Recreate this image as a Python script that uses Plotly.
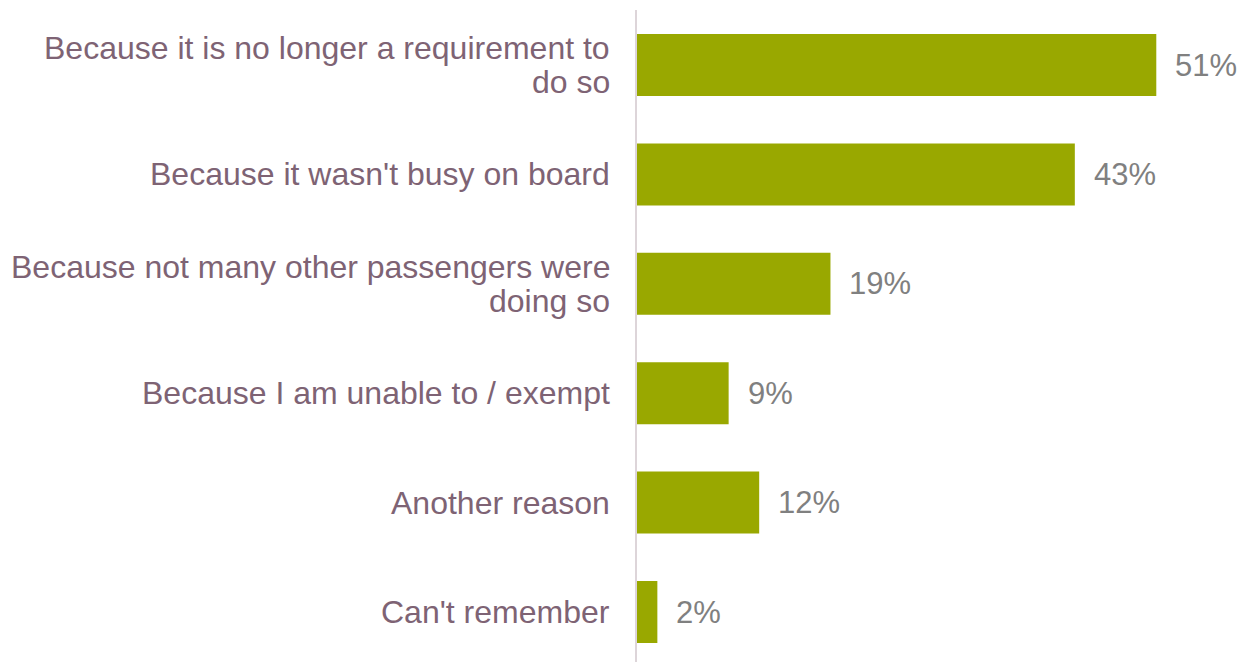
import plotly.graph_objects as go

categories = [
    "Because it is no longer a requirement to<br>do so",
    "Because it wasn't busy on board",
    "Because not many other passengers were<br>doing so",
    "Because I am unable to / exempt",
    "Another reason",
    "Can't remember",
]
values = [51, 43, 19, 9, 12, 2]
value_labels = [f"{v}%" for v in values]

BAR = "#99a800"
LABEL = "#7e6374"
VALUE = "#808080"
AXIS = "#ddd5d9"
FONT = "Liberation Sans, Arial, sans-serif"
LINE_GAP = 34

fig = go.Figure()
fig.add_trace(go.Bar(
    y=categories, x=values, orientation="h",
    marker=dict(color=BAR, line=dict(width=0)),
    hoverinfo="skip",
))

for c, v, t in zip(categories, values, value_labels):
    fig.add_annotation(x=v, y=c, text=t, xanchor="left", yanchor="middle",
                       xshift=17, showarrow=False,
                       font=dict(family=FONT, size=31, color=VALUE))

# category labels, drawn line by line for tighter line spacing
for c in categories:
    lines = c.split("<br>")
    n = len(lines)
    for i, ln in enumerate(lines):
        off = ((n - 1) / 2 - i) * LINE_GAP
        fig.add_annotation(xref="paper", x=0, y=c, text=ln, xanchor="right",
                           yanchor="middle", xshift=-25, yshift=off,
                           showarrow=False,
                           font=dict(family=FONT, size=32, color=LABEL))

fig.update_layout(
    width=1244, height=654,
    margin=dict(l=629, r=0, t=2, b=0),
    paper_bgcolor="white", plot_bgcolor="white",
    showlegend=False,
    bargap=0.433,
    font=dict(family=FONT),
    xaxis=dict(range=[0, 60.4], showgrid=False, zeroline=False,
               showticklabels=False, showline=False, fixedrange=True),
    yaxis=dict(type="category", categoryorder="array", categoryarray=categories,
               range=[5.457, -0.503], showgrid=False, zeroline=False,
               showline=True, linecolor=AXIS, linewidth=2, ticks="",
               showticklabels=False),
)

fig.write_html("out.html")
